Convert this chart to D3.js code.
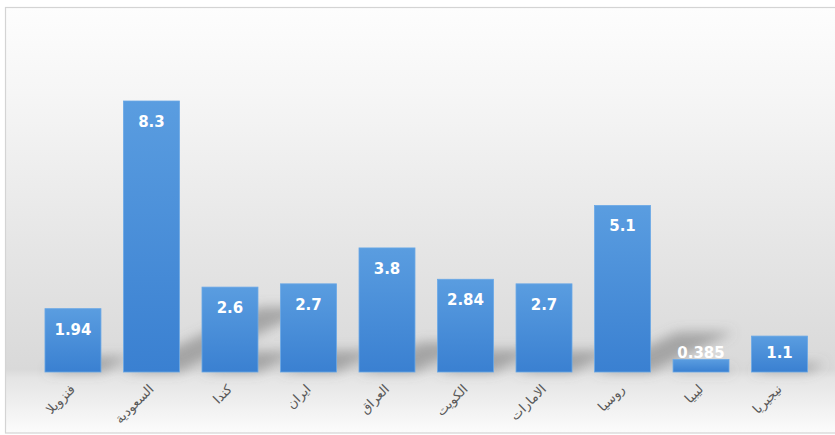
<!DOCTYPE html>
<html><head><meta charset="utf-8">
<script src="https://cdn.jsdelivr.net/npm/d3@7/dist/d3.min.js"></script>
<style>html,body{margin:0;padding:0;background:#fff;}svg{display:block;}</style>
</head><body>
<script>
const categories = ["فنزويلا","السعودية","كندا","ايران","العراق","الكويت","الامارات","روسيا","ليبيا","نيجيريا"];
const values = [1.94, 8.3, 2.6, 2.7, 3.8, 2.84, 2.7, 5.1, 0.385, 1.1];
const valueLabels = ["1.94","8.3","2.6","2.7","3.8","2.84","2.7","5.1","0.385","1.1"];

const W = 835, H = 435;
const svg = d3.select("body").append("svg").attr("width", W).attr("height", H);
const defs = svg.append("defs");

const bg = defs.append("linearGradient").attr("id","bg").attr("x1",0).attr("y1",0).attr("x2",0).attr("y2",1);
[[0,"#fdfdfd"],[0.2,"#f6f6f6"],[0.55,"#e6e6e6"],[0.85,"#d9d9d9"],[0.87,"#e4e4e4"],[1,"#fcfcfc"]].forEach(s=>bg.append("stop").attr("offset",s[0]).attr("stop-color",s[1]));

const bar = defs.append("linearGradient").attr("id","bar").attr("x1",0).attr("y1",0).attr("x2",0).attr("y2",1);
[[0,"#5a9de0"],[1,"#3a80d1"]].forEach(s=>bar.append("stop").attr("offset",s[0]).attr("stop-color",s[1]));

defs.append("filter").attr("id","blur").attr("x","-50%").attr("y","-50%").attr("width","200%").attr("height","200%")
  .append("feGaussianBlur").attr("stdDeviation",6);

svg.append("rect").attr("x",5.5).attr("y",7.5).attr("width",840).attr("height",425.5)
  .attr("fill","url(#bg)").attr("stroke","#d4d4d4").attr("stroke-width",1.2);

const x = d3.scaleBand().domain(categories).range([33.75, 818.75]).paddingInner(0.287).paddingOuter(0.143);
const y = d3.scaleLinear().domain([0, 8.3]).range([372, 101]);
const y0 = y(0);

// shadows
svg.append("g").attr("filter","url(#blur)").selectAll("path").data(categories).join("path")
  .attr("d",(c,i)=>{
    const h = y0 - y(values[i]);
    const xa = x(c), xb = xa + x.bandwidth();
    const dx = h*0.5, dy = h*0.24;
    return `M${xa},${y0}L${xb},${y0}L${xb+dx},${y0-dy}L${xa+dx},${y0-dy}Z`;
  })
  .attr("fill","#6e6e6e").attr("opacity",0.5);

svg.append("g").selectAll("rect").data(categories).join("rect")
  .attr("x",c=>x(c)).attr("width",x.bandwidth())
  .attr("y",(c,i)=>y(values[i])).attr("height",(c,i)=>y0 - y(values[i]))
  .attr("fill","url(#bar)").attr("stroke","#6aa8e6").attr("stroke-width",0.8);

svg.append("g").selectAll("text").data(categories).join("text")
  .attr("x",c=>x(c)+x.bandwidth()/2)
  .attr("y",(c,i)=>Math.min(y(values[i])+26, y0-14))
  .attr("text-anchor","middle")
  .attr("font-family","DejaVu Sans, Verdana, sans-serif").attr("font-weight","bold").attr("font-size",15)
  .attr("fill","#ffffff")
  .text((c,i)=>valueLabels[i]);

const axis = d3.axisBottom(x).tickSize(0).tickPadding(0);
const gx = svg.append("g").attr("transform",`translate(0,${y0})`).call(axis);
gx.select(".domain").remove();
gx.selectAll(".tick text")
  .attr("font-family","DejaVu Sans, Tahoma, sans-serif").attr("font-size",13).attr("fill","#595959")
  .attr("text-anchor","end").attr("dy",0).attr("y",0)
  .attr("transform","translate(3,18) rotate(-45)");
</script>
</body></html>
